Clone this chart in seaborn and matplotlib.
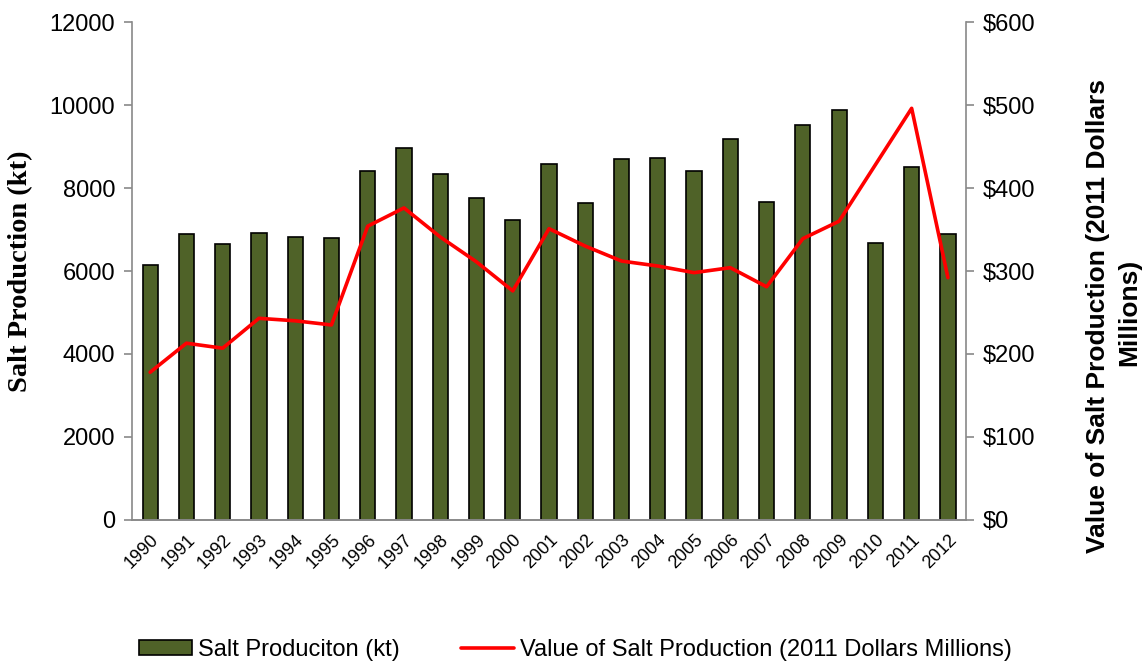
import numpy as np
import pandas as pd
import matplotlib
matplotlib.use("Agg")
import matplotlib.pyplot as plt
import seaborn as sns
from matplotlib.ticker import FuncFormatter, MultipleLocator

years = [str(y) for y in range(1990, 2013)]
production_kt = [6150, 6900, 6650, 6920, 6830, 6800, 8400, 8960, 8340, 7760,
                 7230, 8580, 7640, 8700, 8720, 8400, 9180, 7660, 9520, 9880,
                 6670, 8510, 6890]
value_musd = [178, 213, 207, 243, 240, 235, 354, 376, 341, 311,
              276, 351, 330, 312, 306, 298, 304, 281, 339, 360,
              428, 496, 292]

df = pd.DataFrame({"Year": years, "Production": production_kt, "Value": value_musd})

sns.set_style("white")
plt.rcParams["font.family"] = ["Liberation Sans", "DejaVu Sans"]
plt.rcParams["text.color"] = "black"
plt.rcParams["axes.labelcolor"] = "black"
plt.rcParams["xtick.labelcolor"] = "black"
plt.rcParams["ytick.labelcolor"] = "black"

grey = "#898989"
bar_color = "#4F6228"

fig = plt.figure(figsize=(11.48, 6.63), dpi=100)
ax = fig.add_axes([0.115, 0.2157, 0.7265, 0.7511])

sns.barplot(data=df, x="Year", y="Production", color=bar_color, edgecolor="black",
            linewidth=1.2, width=0.42, saturation=1, ax=ax,
            label="Salt Produciton (kt)")

ax2 = ax.twinx()
sns.pointplot(data=df, x="Year", y="Value", color="red", markers="", linewidth=2.6,
              ax=ax2, label="Value of Salt Production (2011 Dollars Millions)")

ax.set_xlim(-0.5, len(years) - 0.5)
ax.set_ylim(0, 12000)
ax2.set_ylim(0, 600)
ax.yaxis.set_major_locator(MultipleLocator(2000))
ax2.yaxis.set_major_locator(MultipleLocator(100))
ax2.yaxis.set_major_formatter(FuncFormatter(lambda v, p: f"${v:.0f}"))

for a in (ax, ax2):
    a.spines["top"].set_visible(False)
    for s in ("left", "right", "bottom"):
        a.spines[s].set_color(grey)
        a.spines[s].set_linewidth(1.2)
    a.tick_params(axis="y", direction="out", length=6, color=grey, width=1.2,
                  labelsize=17, pad=6)
ax.spines["right"].set_visible(False)
ax2.spines["left"].set_visible(False)

# x ticks: labels at categories, tick marks between categories
ax.set_xticks(range(len(years)))
ax.set_xticklabels(years, rotation=45, ha="right", rotation_mode="anchor", fontsize=13)
ax.tick_params(axis="x", which="major", length=0, pad=8)
ax.set_xticks(np.arange(-0.5, len(years)), minor=True)
ax.tick_params(axis="x", which="minor", direction="out", length=6, color=grey, width=1.2)
ax.set_xlabel("")

ax.set_ylabel("Salt Production (kt)", family=["Liberation Serif"], fontweight="bold",
              fontsize=20.5, labelpad=12)
ax2.set_ylabel("")
# right axis title, two lines as in the original
fig.text(0.9565, 0.5234, "Value of Salt Production (2011 Dollars", rotation=90,
         ha="center", va="center", fontweight="bold", fontsize=19)
fig.text(0.9834, 0.529, "Millions)", rotation=90,
         ha="center", va="center", fontweight="bold", fontsize=19)

if ax.get_legend():
    ax.get_legend().remove()
if ax2.get_legend():
    ax2.get_legend().remove()
h1, l1 = ax.get_legend_handles_labels()
h2, l2 = ax2.get_legend_handles_labels()
fig.legend(h1[:1] + h2[:1], l1[:1] + l2[:1], loc="center", bbox_to_anchor=(0.501, 0.02),
           ncol=2, frameon=False, fontsize=17, handlelength=2.25, handleheight=0.55,
           handletextpad=0.25, columnspacing=2.6)

fig.savefig("out.png", dpi=100)
